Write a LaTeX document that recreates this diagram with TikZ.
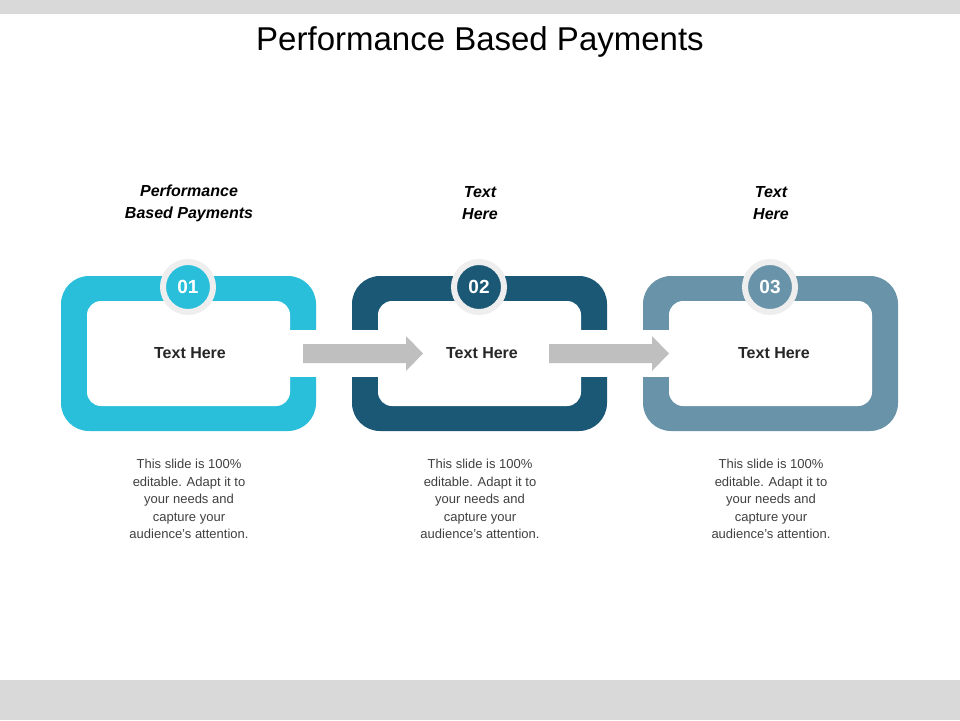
\documentclass[tikz,border=0pt]{standalone}
\usepackage{fontspec}
\setmainfont{Liberation Sans}
\definecolor{cA}{HTML}{29BFDB}
\definecolor{cB}{HTML}{1A5876}
\definecolor{cC}{HTML}{6893A8}
\definecolor{bar}{HTML}{D9D9D9}
\definecolor{ring}{HTML}{EEEEEE}
\definecolor{arr}{HTML}{BFBFBF}
\begin{document}
\begin{tikzpicture}[x=1pt,y=-1pt,
  numc/.style={circle,minimum size=50pt,inner sep=0pt,text=white,font=\fontsize{19}{22}\selectfont\bfseries,draw=ring,line width=6pt},
  hdr/.style={font=\fontsize{16}{22}\selectfont\bfseries\itshape,align=center},
  lbl/.style={font=\fontsize{16}{19}\selectfont\bfseries,text=black!85},
  body/.style={font=\fontsize{13}{17.5}\selectfont,text=black!75,align=center}]
\useasboundingbox (0,0) rectangle (960,720);
\fill[white] (0,0) rectangle (960,720);
\fill[bar] (0,0) rectangle (960,14);
\fill[bar] (0,680) rectangle (960,720);
\node[font=\fontsize{33}{38}\selectfont] (title) at (480,42) {Performance Based Payments};
% boxes
\foreach \dx/\c/\l/\r [count=\i] in {0/cA/0/1,291/cB/1/1,582/cC/1/0}{
  \fill[\c,rounded corners=28pt] (61+\dx,276) rectangle (316+\dx,431);
  \fill[white,rounded corners=14pt] (87+\dx,301) rectangle (290+\dx,406);
  \ifnum\r=1 \fill[white] (285+\dx,330) rectangle (320+\dx,377);\fi
  \ifnum\l=1 \fill[white] (57+\dx,330) rectangle (92+\dx,377);\fi
}
\node[numc,fill=cA] (n1) at (188,287) {01};
\node[numc,fill=cB] (n2) at (479,287) {02};
\node[numc,fill=cC] (n3) at (770,287) {03};
\node[lbl] (t1) at (190,353) {Text Here};
\node[lbl] (t2) at (482,353) {Text Here};
\node[lbl] (t3) at (774,353) {Text Here};
\fill[arr] (303,344) -- (406,344) -- (406,336) -- (423,353.5) -- (406,371) -- (406,363) -- (303,363) -- cycle;
\fill[arr] (549,344) -- (652,344) -- (652,336) -- (669,353.5) -- (652,371) -- (652,363) -- (549,363) -- cycle;
\node[hdr] (h1) at (189,203) {Performance\\Based Payments};
\node[hdr] (h2) at (480,203) {Text\\Here};
\node[hdr] (h3) at (771,203) {Text\\Here};
\node[body] (b1) at (189,499) {This slide is 100\%\\editable. Adapt it to\\your needs and\\capture your\\audience's attention.};
\node[body] (b2) at (480,499) {This slide is 100\%\\editable. Adapt it to\\your needs and\\capture your\\audience's attention.};
\node[body] (b3) at (771,499) {This slide is 100\%\\editable. Adapt it to\\your needs and\\capture your\\audience's attention.};
\end{tikzpicture}
\end{document}
